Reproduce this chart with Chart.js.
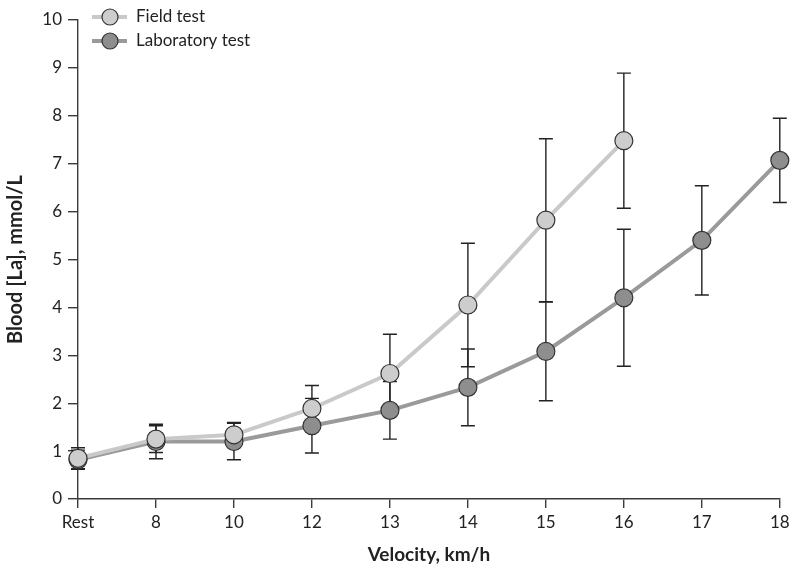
<!DOCTYPE html>
<html>
<head>
<meta charset="utf-8">
<script src="https://cdn.jsdelivr.net/npm/chart.js@4"></script>
<style>
  html, body { margin: 0; padding: 0; background: #fff; }
  #wrap { width: 790px; height: 570px; }
</style>
</head>
<body>
<div id="wrap"><canvas id="lactateChart" width="790" height="570"></canvas></div>
<script>
// velocity stages
const velocities = ['Rest', '8', '10', '12', '13', '14', '15', '16', '17', '18'];

// blood lactate means (mmol/L)
const fieldTest = [0.85, 1.25, 1.34, 1.89, 2.62, 4.05, 5.82, 7.48, null, null];
const labTest = [0.82, 1.2, 1.2, 1.53, 1.85, 2.33, 3.08, 4.2, 5.4, 7.07];

// standard deviations
const fieldSD = [0.22, 0.28, 0.26, 0.48, 0.82, 1.29, 1.7, 1.41, null, null];
const labSD = [0.2, 0.36, 0.38, 0.57, 0.6, 0.8, 1.03, 1.43, 1.14, 0.88];

const yTicks = [0, 1, 2, 3, 4, 5, 6, 7, 8, 9, 10];

const fontFamily = 'Lato, "Open Sans", sans-serif';
const axisColor = '#3a3a3a';

const errorBars = {
    id: 'errorBars',
    beforeDatasetsDraw(chart) {
        const ctx = chart.ctx;
        const x = chart.scales.x;
        const y = chart.scales.y;
        const sets = [[fieldTest, fieldSD], [labTest, labSD]];
        ctx.save();
        ctx.strokeStyle = '#222';
        ctx.lineWidth = 1.4;
        sets.forEach(([vals, sd]) => {
            vals.forEach((v, i) => {
                if (v == null || sd[i] == null) return;
                const px = x.getPixelForValue(i);
                const top = y.getPixelForValue(v + sd[i]);
                const bot = y.getPixelForValue(v - sd[i]);
                ctx.beginPath();
                ctx.moveTo(px, top); ctx.lineTo(px, bot);
                ctx.moveTo(px - 7, top); ctx.lineTo(px + 7, top);
                ctx.moveTo(px - 7, bot); ctx.lineTo(px + 7, bot);
                ctx.stroke();
            });
        });
        ctx.restore();
    }
};

const legendBox = {
    id: 'legendBox',
    afterDraw(chart) {
        const ctx = chart.ctx;
        const items = [
            ['Field test', '#c9c9c9', '#cdcdcd', 17],
            ['Laboratory test', '#9a9a9a', '#8e8e8e', 41]
        ];
        ctx.save();
        items.forEach(([label, line, fill, yy]) => {
            ctx.strokeStyle = line;
            ctx.lineWidth = 4;
            ctx.beginPath();
            ctx.moveTo(92, yy); ctx.lineTo(127, yy);
            ctx.stroke();
            ctx.beginPath();
            ctx.arc(110, yy, 8, 0, Math.PI * 2);
            ctx.fillStyle = fill;
            ctx.fill();
            ctx.strokeStyle = '#333';
            ctx.lineWidth = 1.2;
            ctx.stroke();
            ctx.fillStyle = '#222';
            ctx.font = '17px ' + fontFamily;
            ctx.textBaseline = 'middle';
            ctx.fillText(label, 136, yy);
        });
        ctx.restore();
    }
};

new Chart(document.getElementById('lactateChart').getContext('2d'), {
    type: 'line',
    data: {
        labels: velocities,
        datasets: [
            {
                label: 'Field test',
                data: fieldTest,
                borderColor: '#c9c9c9',
                backgroundColor: '#cdcdcd',
                pointBackgroundColor: '#cdcdcd',
                pointBorderColor: '#333',
                pointBorderWidth: 1.2,
                pointRadius: 9,
                borderWidth: 4,
                fill: false,
                clip: false
            },
            {
                label: 'Laboratory test',
                data: labTest,
                borderColor: '#9a9a9a',
                backgroundColor: '#8e8e8e',
                pointBackgroundColor: '#8e8e8e',
                pointBorderColor: '#333',
                pointBorderWidth: 1.2,
                pointRadius: 9,
                borderWidth: 4,
                fill: false,
                clip: false
            }
        ]
    },
    options: {
        responsive: false,
        animation: false,
        events: [],
        layout: { padding: { left: 0, right: 9, top: 20, bottom: 0 } },
        plugins: {
            legend: { display: false },
            tooltip: { enabled: false }
        },
        scales: {
            x: {
                offset: false,
                grid: { display: true, drawOnChartArea: false, drawTicks: true, tickLength: 9, color: axisColor, lineWidth: 1.4 },
                border: { display: true, color: axisColor, width: 1.4 },
                ticks: { color: '#222', font: { family: fontFamily, size: 17 }, padding: 4, maxRotation: 0, autoSkip: false },
                title: { display: true, text: 'Velocity, km/h', color: '#222', font: { family: fontFamily, size: 19, weight: 'bold' }, padding: { top: 16 } },
                afterFit(scale) {
                    scale.height = 71;
                    scale.paddingRight = 0;
                    scale.paddingLeft = 0;
                }
            },
            y: {
                min: 0,
                max: 10,
                afterBuildTicks(scale) { scale.ticks = yTicks.map(v => ({ value: v })); },
                grid: { display: true, drawOnChartArea: false, drawTicks: true, tickLength: 10, color: axisColor, lineWidth: 1.4 },
                border: { display: true, color: axisColor, width: 1.4 },
                ticks: { color: '#222', font: { family: fontFamily, size: 17 }, padding: 6 },
                title: { display: true, text: 'Blood [La], mmol/L', color: '#222', font: { family: fontFamily, size: 20, weight: 'bold' }, padding: { bottom: 8 } },
                afterFit(scale) { scale.width = 78; }
            }
        }
    },
    plugins: [errorBars, legendBox]
});
</script>
</body>
</html>
